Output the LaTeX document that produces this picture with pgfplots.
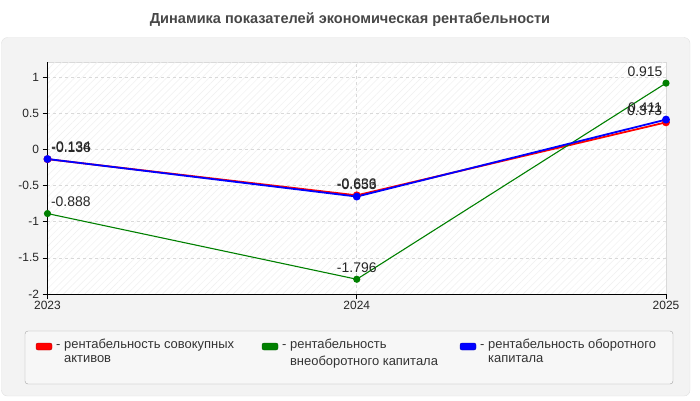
\documentclass[border=0pt]{standalone}
\usepackage{fontspec}
\setmainfont{Liberation Sans}
\usepackage{pgfplots}
\pgfplotsset{compat=1.18}
\usetikzlibrary{patterns.meta}
\definecolor{panelbg}{HTML}{F3F3F3}
\definecolor{legbg}{HTML}{F7F7F7}
\definecolor{sred}{HTML}{FF0000}
\definecolor{sgreen}{HTML}{008000}
\definecolor{sblue}{HTML}{0000FF}
\newcommand{\fs}[1]{\fontsize{#1}{#1}\selectfont}
\begin{document}
\begin{tikzpicture}[x=1bp,y=1bp]
\path (0,0) rectangle (700,-400);
\draw[rounded corners=6bp, draw=black!12, fill=panelbg] (1.5,-37.5) rectangle (690,-396);
\node[font=\bfseries\fs{14.6}, text=black!72] at (350,-20) {Динамика показателей экономическая рентабельности};
\begin{axis}[
    at={(47.5bp,-294bp)}, anchor=south west,
    scale only axis, width=618.5bp, height=232bp,
    xmin=0, xmax=2, ymin=-2, ymax=1.207,
    axis lines=left, axis line style={-, black, line width=0.8bp},
    axis background/.style={fill=white, draw=black!15,
        postaction={pattern={Lines[angle=45,distance=5bp,line width=0.5bp]}, pattern color=black!6}},
    xtick={0,1,2}, xticklabels={2023,2024,2025},
    ytick={-2,-1.5,-1,-0.5,0,0.5,1},
    yticklabels={-2,-1.5,-1,-0.5,0,0.5,1},
    tick align=outside, major tick length=5bp,
    tick style={black, line width=0.6bp},
    ticklabel style={font=\fs{12}, text=black!85},
    xticklabel style={yshift=1bp},
    ymajorgrids, xmajorgrids,
    grid style={dashed, black!15, line width=0.6bp},
    clip=false,
    point meta=explicit symbolic,
    nodes near coords,
    every node near coord/.append style={font=\fs{14}, text=black!85, inner sep=1bp, yshift=5bp},
    coordinate style/.condition={x==0}{anchor=south west, xshift=2bp},
    coordinate style/.condition={x==2}{anchor=south east, xshift=-2bp},
]
\addplot[sred, line width=1.8bp, mark=*, mark size=3bp] coordinates {
    (0,-0.136) [-0.136]
    (1,-0.636) [-0.636]
    (2,0.373)  [0.373]
};
\addplot[sgreen, line width=1.1bp, mark=*, mark size=3bp] coordinates {
    (0,-0.888) [-0.888]
    (1,-1.796) [-1.796]
    (2,0.915)  [0.915]
};
\addplot[sblue, line width=1.8bp, mark=*, mark size=3bp] coordinates {
    (0,-0.134) [-0.134]
    (1,-0.653) [-0.653]
    (2,0.411)  [0.411]
};
\end{axis}
\draw[rounded corners=3bp, draw=black!35, fill=legbg] (25,-331) rectangle (673,-384);
\begin{scope}[every node/.style={anchor=north west, inner sep=0pt, font=\fs{13}, text=black!80}]
\draw[rounded corners=2bp, fill=sred, draw=sred!70!black] (36,-343) rectangle (52,-350);
\node at (56,-339) {- \begin{tabular}[t]{@{}l@{}}рентабельность совокупных\\[1bp]активов\end{tabular}};
\draw[rounded corners=2bp, fill=sgreen, draw=sgreen!70!black] (262,-343) rectangle (278,-350);
\node at (282,-339) {- \begin{tabular}[t]{@{}l@{}}рентабельность\\[3bp]внеоборотного капитала\end{tabular}};
\draw[rounded corners=2bp, fill=sblue, draw=sblue!70!black] (460,-343) rectangle (476,-350);
\node at (480,-339) {- \begin{tabular}[t]{@{}l@{}}рентабельность оборотного\\[1bp]капитала\end{tabular}};
\end{scope}
\end{tikzpicture}
\end{document}
